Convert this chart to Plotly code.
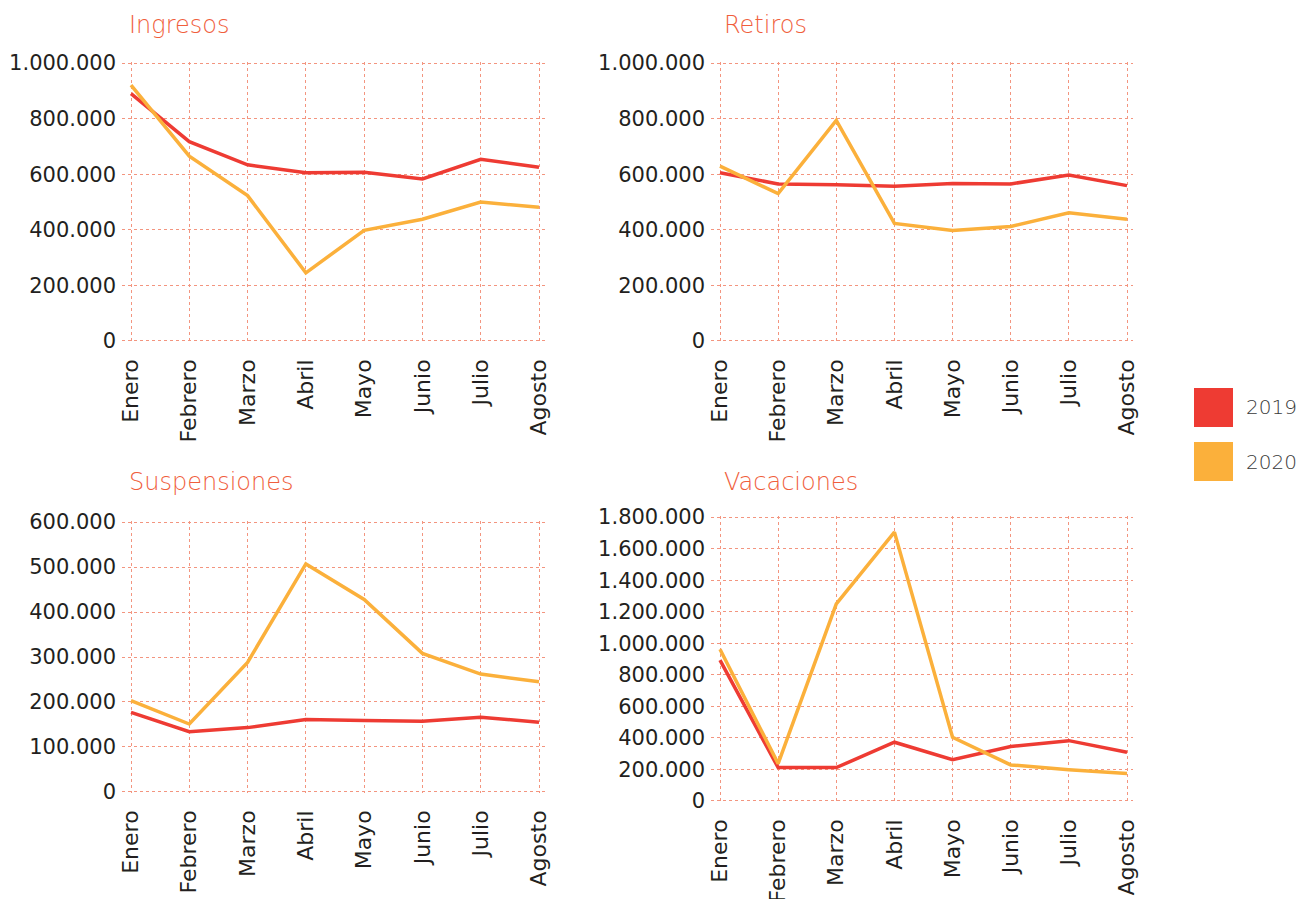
import plotly.graph_objects as go

W, H = 1302, 899

meses = ["Enero", "Febrero", "Marzo", "Abril", "Mayo", "Junio", "Julio", "Agosto"]

ingresos_2019 = [890000, 717000, 634000, 605000, 607000, 583000, 654000, 625000]
ingresos_2020 = [921000, 665000, 523000, 245000, 398000, 438000, 500000, 481000]

retiros_2019 = [605000, 565000, 562000, 557000, 567000, 565000, 597000, 559000]
retiros_2020 = [629000, 530000, 794000, 423000, 397000, 412000, 461000, 438000]

suspensiones_2019 = [177000, 134000, 143000, 161000, 159000, 157000, 166000, 155000]
suspensiones_2020 = [203000, 151000, 288000, 507000, 428000, 308000, 262000, 245000]

vacaciones_2019 = [893000, 211000, 211000, 372000, 261000, 345000, 382000, 309000]
vacaciones_2020 = [962000, 236000, 1250000, 1705000, 403000, 228000, 198000, 174000]

titulos = ["Ingresos", "Retiros", "Suspensiones", "Vacaciones"]
anios = ["2019", "2020"]

ytick_vals = [
    [0, 200000, 400000, 600000, 800000, 1000000],
    [0, 200000, 400000, 600000, 800000, 1000000],
    [0, 100000, 200000, 300000, 400000, 500000, 600000],
    [0, 200000, 400000, 600000, 800000, 1000000, 1200000, 1400000, 1600000, 1800000],
]
ytick_text = [
    ["0", "200.000", "400.000", "600.000", "800.000", "1.000.000"],
    ["0", "200.000", "400.000", "600.000", "800.000", "1.000.000"],
    ["0", "100.000", "200.000", "300.000", "400.000", "500.000", "600.000"],
    ["0", "200.000", "400.000", "600.000", "800.000", "1.000.000", "1.200.000", "1.400.000", "1.600.000", "1.800.000"],
]
ymax = [1000000, 1000000, 600000, 1800000]

series = [
    (ingresos_2019, ingresos_2020),
    (retiros_2019, retiros_2020),
    (suspensiones_2019, suspensiones_2020),
    (vacaciones_2019, vacaciones_2020),
]

RED = "#EE3B33"
YEL = "#FBB03B"
GRID = "#F3957F"
TITLE_C = "#F05E3C"
TICK_C = "#231F20"
FONT = "DejaVu Sans"

# pixel layout of each panel: (left, right, top, bottom, title_x, title_y)
panels = [
    (122, 545, 62, 342, 127, 25),
    (711, 1133, 62, 342, 722, 25),
    (122, 545, 521, 793, 127, 482),
    (711, 1133, 516, 802, 722, 482),
]

fig = go.Figure()
annotations = []
shapes = []

for i, (s19, s20) in enumerate(series):
    xa = "x" if i == 0 else f"x{i+1}"
    ya = "y" if i == 0 else f"y{i+1}"
    for vals, col, name in ((s19, RED, anios[0]), (s20, YEL, anios[1])):
        fig.add_trace(go.Scatter(
            x=meses, y=vals, mode="lines", name=name,
            line=dict(color=col, width=3.5),
            xaxis=xa, yaxis=ya, showlegend=False,
        ))
    l, r, t, b, tx, ty = panels[i]
    step = (r - l - 15) / 7.0
    x0 = -9 / step
    x1 = 7 + 6 / step
    pad = ymax[i] * 0.004
    xkey = "xaxis" if i == 0 else f"xaxis{i+1}"
    ykey = "yaxis" if i == 0 else f"yaxis{i+1}"
    fig.layout[xkey] = dict(
        domain=[l / W, r / W], anchor=ya, range=[x0, x1],
        type="category", categoryorder="array", categoryarray=meses,
        tickangle=-90, showgrid=True, gridcolor=GRID, griddash="3px,3px",
        gridwidth=1, zeroline=False, showline=False, ticks="",
        ticklabelstandoff=12,
        tickfont=dict(family=FONT, size=22, color=TICK_C),
        fixedrange=True,
    )
    fig.layout[ykey] = dict(
        domain=[1 - b / H, 1 - t / H], anchor=xa, range=[-pad, ymax[i] + pad],
        tickvals=ytick_vals[i], ticktext=ytick_text[i],
        showgrid=True, gridcolor=GRID, griddash="3px,3px", gridwidth=1,
        zeroline=False, showline=False, ticks="", ticklabelstandoff=5,
        tickfont=dict(family=FONT, size=21, color=TICK_C),
        fixedrange=True,
    )
    annotations.append(dict(
        text=titulos[i], x=tx / W, y=1 - ty / H, xref="paper", yref="paper",
        xanchor="left", yanchor="middle", showarrow=False,
        font=dict(family=FONT, size=24, color=TITLE_C, weight=200),
    ))

# legend (drawn as swatches with labels)
leg = [(RED, anios[0], 388, 427), (YEL, anios[1], 442, 481)]
for col, name, t, b in leg:
    shapes.append(dict(
        type="rect", xref="paper", yref="paper",
        x0=1194 / W, x1=1233 / W, y0=1 - b / H, y1=1 - t / H,
        fillcolor=col, line=dict(width=0),
    ))
    annotations.append(dict(
        text=name, x=1244 / W, y=1 - ((t + b) / 2) / H, xref="paper", yref="paper",
        xanchor="left", yanchor="middle", showarrow=False,
        font=dict(family=FONT, size=20, color="#3A3A3A", weight=200),
    ))

fig.update_layout(
    width=W, height=H,
    margin=dict(l=0, r=0, t=0, b=0, pad=0, autoexpand=False),
    paper_bgcolor="white", plot_bgcolor="white",
    annotations=annotations, shapes=shapes, showlegend=False,
)

fig.write_html(
    "out.html",
    config={"displayModeBar": False},
    post_script="document.body.style.margin='0';document.body.style.overflow='hidden';",
)
